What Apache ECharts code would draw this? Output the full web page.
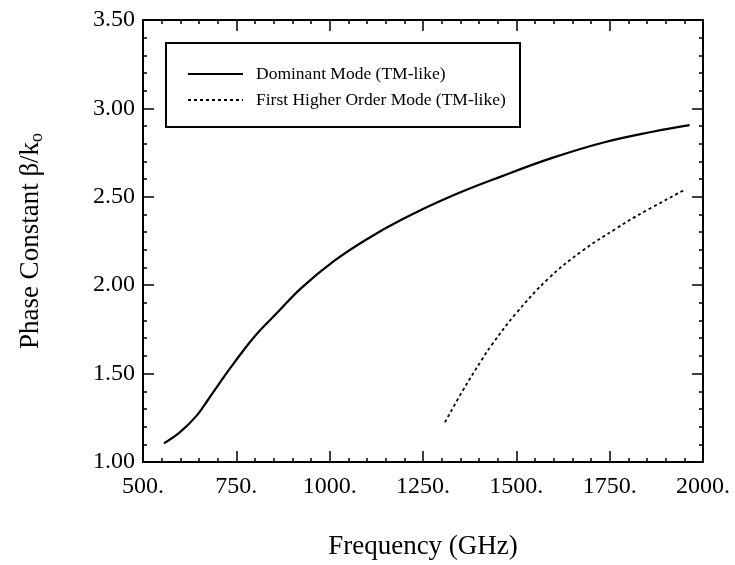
<!DOCTYPE html>
<html><head><meta charset="utf-8">
<script src="https://cdn.jsdelivr.net/npm/echarts@6/dist/echarts.min.js"></script>
<style>html,body{margin:0;padding:0;background:#fff}#c{width:735px;height:565px}</style>
</head><body><div id="c"></div>
<script>
const xTicks = [500, 750, 1000, 1250, 1500, 1750, 2000];
const yTicks = [1.0, 1.5, 2.0, 2.5, 3.0, 3.5];
const dominantFreq = [556, 600, 645, 672, 707, 743, 800, 860, 923, 1012, 1102, 1192, 1322, 1462, 1596, 1731, 1865, 1964];
const dominantBeta = [1.105, 1.17, 1.265, 1.345, 1.452, 1.558, 1.713, 1.845, 1.982, 2.137, 2.263, 2.37, 2.50, 2.617, 2.72, 2.806, 2.868, 2.905];
const higherFreq = [1309, 1354, 1408, 1435, 1497, 1587, 1677, 1767, 1821, 1951];
const higherBeta = [1.225, 1.395, 1.58, 1.665, 1.835, 2.04, 2.195, 2.32, 2.39, 2.54];
const seriesNames = ['Dominant Mode (TM-like)', 'First Higher Order Mode (TM-like)'];

const FONT = 'Liberation Serif';
const chart = echarts.init(document.getElementById('c'), null, {renderer: 'canvas'});
const pair = (xs, ys) => xs.map((x, i) => [x, ys[i]]);

const baseX = {
  type: 'value', min: xTicks[0], max: xTicks[xTicks.length - 1], interval: xTicks[1] - xTicks[0],
  axisLine: {onZero: false, lineStyle: {color: '#000', width: 2}},
  axisTick: {inside: true, length: 11, lineStyle: {color: '#000', width: 1.5}},
  minorTick: {show: true, splitNumber: 5, length: 4, lineStyle: {color: '#000', width: 1.5}},
  splitLine: {show: false}
};
const baseY = {
  type: 'value', min: yTicks[0], max: yTicks[yTicks.length - 1], interval: yTicks[1] - yTicks[0],
  axisLine: {onZero: false, lineStyle: {color: '#000', width: 2}},
  axisTick: {inside: true, length: 11, lineStyle: {color: '#000', width: 1.5}},
  minorTick: {show: true, splitNumber: 5, length: 4, lineStyle: {color: '#000', width: 1.5}},
  splitLine: {show: false}
};

chart.setOption({
  animation: false,
  backgroundColor: '#fff',
  grid: {left: 143, right: 32, top: 20, bottom: 103},
  xAxis: [
    Object.assign({}, baseX, {
      position: 'bottom',
      name: 'Frequency (GHz)', nameLocation: 'middle', nameGap: 71,
      nameTextStyle: {fontFamily: FONT, fontSize: 27, color: '#000'},
      axisLabel: {formatter: v => v + '.', fontFamily: FONT, fontSize: 24, color: '#000', margin: 13}
    }),
    Object.assign({}, baseX, {position: 'top', axisLabel: {show: false}})
  ],
  yAxis: [
    Object.assign({}, baseY, {
      position: 'left',
      name: 'Phase Constant β/k{sub|o}', nameLocation: 'middle', nameGap: 97, nameRotate: 90,
      nameTextStyle: {fontFamily: FONT, fontSize: 27, color: '#000',
        rich: {sub: {fontFamily: FONT, fontSize: 18, color: '#000', verticalAlign: 'bottom', padding: [12, 0, 0, 0]}}},
      axisLabel: {formatter: v => v.toFixed(2), fontFamily: FONT, fontSize: 24, color: '#000', margin: 8}
    }),
    Object.assign({}, baseY, {position: 'right', axisLabel: {show: false}})
  ],
  legend: {
    left: 182, top: 60, orient: 'vertical', itemGap: 8,
    itemWidth: 55, itemHeight: 14,
    data: seriesNames,
    itemStyle: {opacity: 0},
    textStyle: {fontFamily: FONT, fontSize: 17.5, color: '#000', padding: [0, 0, 0, 8]}
  },
  graphic: [{
    type: 'rect', left: 165, top: 42, z: 10,
    shape: {width: 354, height: 84},
    style: {fill: 'transparent', stroke: '#000', lineWidth: 2}
  }],
  series: [
    {name: seriesNames[0], type: 'line', smooth: 0.4, symbol: 'none', xAxisIndex: 0, yAxisIndex: 0,
     lineStyle: {color: '#000', width: 2.2}, itemStyle: {color: '#000'},
     data: pair(dominantFreq, dominantBeta)},
    {name: seriesNames[1], type: 'line', smooth: 0.4, symbol: 'none', xAxisIndex: 0, yAxisIndex: 0,
     lineStyle: {color: '#000', width: 1.8, type: [3, 3]}, itemStyle: {color: '#000'},
     data: pair(higherFreq, higherBeta)}
  ]
});
</script></body></html>
